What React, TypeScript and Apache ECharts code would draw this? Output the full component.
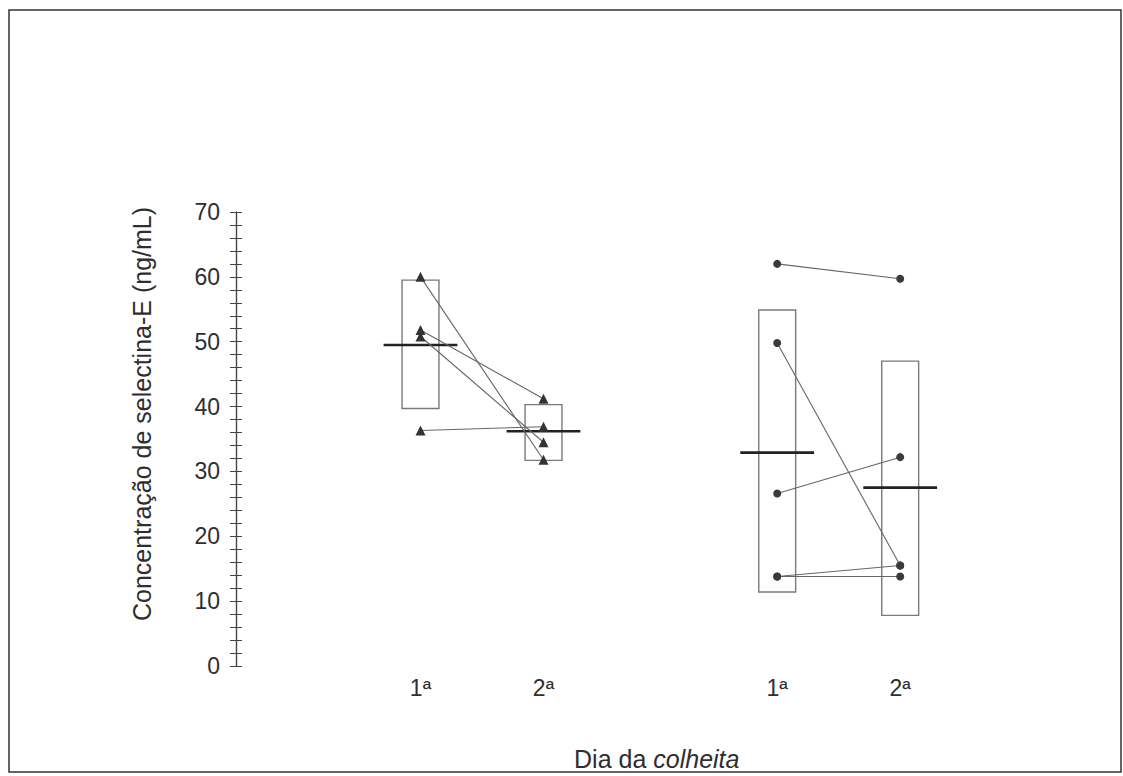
import React, { useEffect, useRef } from "react";
import * as echarts from "echarts";

// x positions of the four collection days (two groups)
const xPositions = [1, 2, 3.9, 4.9];
const xLabels = ["1ª", "2ª", "1ª", "2ª"];

// Group A (triangles): paired values, day 1 -> day 2
const groupADay1 = [60, 51.8, 50.8, 36.3];
const groupADay2 = [31.8, 41.2, 34.5, 36.9];
// Group B (circles): paired values, day 1 -> day 2
const groupBDay1 = [62, 49.8, 26.6, 13.8, 13.8];
const groupBDay2 = [59.7, 15.5, 32.2, 15.5, 13.8];

// Means (thick horizontal bars) for the four columns
const columnMeans = [49.5, 36.2, 32.9, 27.5];
// Box limits (low, high) for the four columns
const boxLow = [39.7, 31.7, 11.4, 7.8];
const boxHigh = [59.5, 40.3, 54.9, 47.0];

const yMin = 0;
const yMax = 70;
const yInterval = 10;

const FONT = "'Liberation Sans', Arial, Helvetica, sans-serif";
const TXT = "#2e2e2e";

export default function App() {
  const ref = useRef<HTMLDivElement>(null);

  useEffect(() => {
    if (!ref.current) return;
    const chart = echarts.init(ref.current, undefined, { renderer: "svg" });

    const pairSeries: any[] = [];
    groupADay1.forEach((v, i) => {
      pairSeries.push({
        type: "line",
        data: [
          [xPositions[0], v],
          [xPositions[1], groupADay2[i]],
        ],
        symbol: "triangle",
        symbolSize: 10,
        itemStyle: { color: "#333" },
        lineStyle: { color: "#666", width: 1.1 },
        z: 5,
      });
    });
    groupBDay1.forEach((v, i) => {
      pairSeries.push({
        type: "line",
        data: [
          [xPositions[2], v],
          [xPositions[3], groupBDay2[i]],
        ],
        symbol: "circle",
        symbolSize: 8,
        itemStyle: { color: "#3a3a3a" },
        lineStyle: { color: "#666", width: 1.1 },
        z: 5,
      });
    });

    const boxData = xPositions.map((x, i) => [x, boxLow[i], boxHigh[i]]);
    const meanData = xPositions.map((x, i) => [x, columnMeans[i]]);

    const yAxisBase = {
      type: "value",
      min: yMin,
      max: yMax,
      interval: yInterval,
      position: "left",
      offset: 0,
      splitLine: { show: false },
      axisLine: { show: true, onZero: false, lineStyle: { color: "#444", width: 1.2 } },
      minorSplitLine: { show: false },
    };

    chart.setOption({
      animation: false,
      backgroundColor: "#fff",
      grid: { left: 236, right: 87.5, top: 212, bottom: 109 },
      graphic: [
        {
          type: "rect",
          shape: { x: 9, y: 10, width: 1112, height: 762 },
          style: { fill: "none", stroke: "#333", lineWidth: 1.5 },
          silent: true,
        },
      ],
      xAxis: {
        type: "value",
        min: -0.5,
        max: 6,
        interval: 0.1,
        axisLine: { show: false, onZero: false },
        axisTick: { show: false },
        splitLine: { show: false },
        axisLabel: {
          margin: 10,
          fontFamily: FONT,
          fontSize: 23,
          color: TXT,
          formatter: (v: number) => {
            for (let i = 0; i < xPositions.length; i++) {
              if (Math.abs(v - xPositions[i]) < 0.01) return xLabels[i];
            }
            return "";
          },
        },
        name: "{n|Dia da }{i|colheita}",
        nameLocation: "middle",
        nameGap: 80,
        nameTextStyle: {
          padding: [0, 0, 0, 42],
          rich: {
            n: { fontFamily: FONT, fontSize: 25, color: TXT },
            i: { fontFamily: FONT, fontSize: 25, color: TXT, fontStyle: "italic" },
          },
        },
      },
      yAxis: [
        {
          ...yAxisBase,
          axisTick: { show: true, length: 6, lineStyle: { color: "#444" } },
          minorTick: { show: true, splitNumber: 5, length: 6, lineStyle: { color: "#444" } },
          axisLabel: { fontFamily: FONT, fontSize: 23, color: TXT, margin: 16 },
          name: "Concentração de selectina-E (ng/mL)",
          nameLocation: "middle",
          nameGap: 82,
          nameTextStyle: { fontFamily: FONT, fontSize: 25, color: TXT, padding: [0, 0, 0, 50] },
        },
        {
          ...yAxisBase,
          axisTick: { show: true, inside: true, length: 6, lineStyle: { color: "#444" } },
          minorTick: { show: true, splitNumber: 5, length: 6, lineStyle: { color: "#444" } },
          axisLabel: { show: false },
        },
      ],
      series: [
        {
          type: "custom",
          data: boxData,
          z: 2,
          renderItem: (params: any, api: any) => {
            const x = api.value(0);
            const p1 = api.coord([x - 0.15, api.value(2)]);
            const p2 = api.coord([x + 0.15, api.value(1)]);
            return {
              type: "rect",
              shape: { x: p1[0], y: p1[1], width: p2[0] - p1[0], height: p2[1] - p1[1] },
              style: { fill: "none", stroke: "#7a7a7a", lineWidth: 1.4 },
            };
          },
        },
        {
          type: "custom",
          data: meanData,
          z: 4,
          renderItem: (params: any, api: any) => {
            const x = api.value(0);
            const p1 = api.coord([x - 0.3, api.value(1)]);
            const p2 = api.coord([x + 0.3, api.value(1)]);
            return {
              type: "line",
              shape: { x1: p1[0], y1: p1[1], x2: p2[0], y2: p2[1] },
              style: { stroke: "#222", lineWidth: 2.6 },
            };
          },
        },
        ...pairSeries,
      ],
    });

    return () => chart.dispose();
  }, []);

  return (
    <div
      ref={ref}
      style={{ position: "absolute", left: 0, top: 0, width: 1123, height: 776 }}
    />
  );
}
